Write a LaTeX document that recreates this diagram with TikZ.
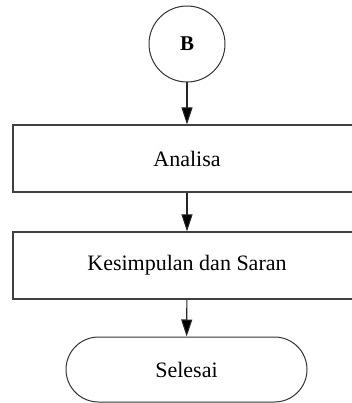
\documentclass[tikz,border=0pt]{standalone}
\usepackage{fontspec}
\setmainfont{Liberation Serif}
\usetikzlibrary{arrows.meta,shapes.misc}
\begin{document}
\begin{tikzpicture}[x=1pt,y=-1pt,
  proc/.style={draw=black!75,line width=1.3pt,minimum width=348pt,minimum height=67pt,font=\fontsize{22}{26}\selectfont,inner sep=0pt},
  conn/.style={draw=black!85,line width=1.1pt,-{Triangle[length=17pt,width=11pt,fill=black]}},
]
\clip (0,0) rectangle (352,403);
\fill[white] (0,0) rectangle (352,403);
\node[circle,draw=black!80,line width=1pt,minimum size=76pt,inner sep=0pt,font=\bfseries\fontsize{21}{25}\selectfont] (b) at (187,44) {B};
\node[proc] (a) at (187,158.5) {Analisa};
\node[proc] (k) at (187,265.5) {Kesimpulan dan Saran};
\node[rounded rectangle,draw=black!80,line width=1pt,minimum width=241pt,minimum height=65pt,inner sep=0pt,font=\fontsize{22}{26}\selectfont] (s) at (186.5,369.5) {Selesai};
\draw[conn] (b) -- (a);
\draw[conn] (a) -- (k);
\draw[conn] (k) -- (s);
\end{tikzpicture}
\end{document}
